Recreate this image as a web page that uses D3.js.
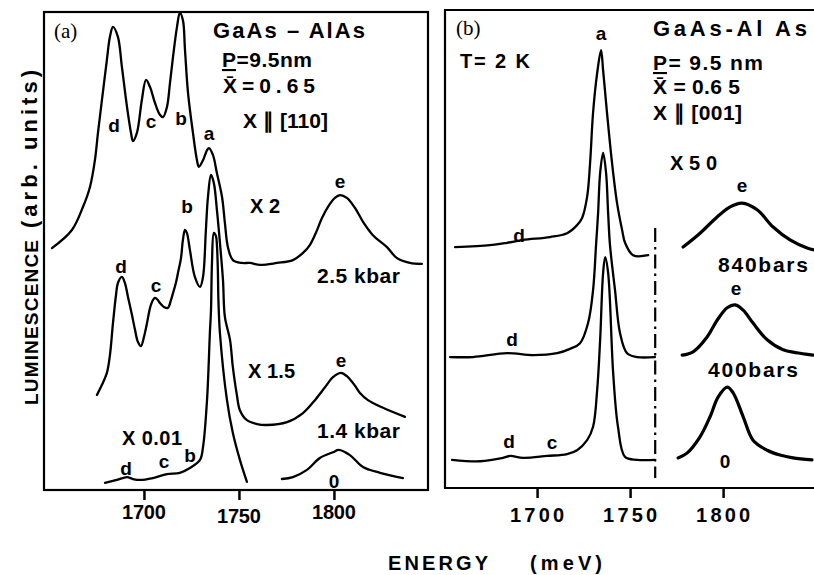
<!DOCTYPE html>
<html>
<head>
<meta charset="utf-8">
<script src="https://cdnjs.cloudflare.com/ajax/libs/d3/7.8.5/d3.min.js"></script>
<style>
body{margin:0;background:#fff}
svg{display:block}
text{font-family:"Liberation Sans",Arial,sans-serif;font-weight:bold;fill:#000}
text.serif{font-family:"Liberation Serif","Times New Roman",serif;font-weight:normal}
</style>
</head>
<body>
<svg id="chart" width="814" height="575"></svg>
<script>
var tickEnergies = [1700, 1750, 1800]

// panel (a)  X || [110]
var a25Energy = [1651.6,1662.1,1667.9,1671.6,1674.2,1675.8,1677.9,1680.5,1682.1,1683.7,1686.3,1688.4,1691.1,1693.2,1694.2,1696.3,1698.9,1701.1,1703.2,1705.8,1708.4,1710.0,1712.1,1713.7,1715.3,1717.4,1718.9,1720.5,1721.6,1723.2,1725.8,1727.9,1728.9,1731.1,1733.2,1734.2,1736.3,1738.4,1741.1,1742.6,1744.2,1746.8,1751.6,1755.8,1761.1,1770.0,1778.4,1783.7,1787.4,1790.5,1793.7,1796.8,1800.5,1803.2,1806.8,1811.1,1815.3,1820.5,1827.9,1833.2,1840.0,1846.3]
var a25Lum = [50.6,54.4,59.2,63.4,69.0,74.7,81.6,90.0,94.8,96.9,94.8,88.5,80.1,74.7,73.0,74.7,81.6,85.8,84.3,81.0,78.5,78.0,80.1,85.1,90.6,96.9,99.8,98.3,92.1,83.1,74.7,69.0,67.6,69.0,71.1,71.5,70.1,66.3,61.3,55.9,50.8,48.1,47.5,47.5,47.1,47.5,48.1,49.6,51.3,53.8,56.9,59.2,61.1,61.7,61.1,59.0,56.1,53.3,50.8,48.5,47.5,47.3]

var a14Energy = [1675.3,1677.9,1680.5,1682.1,1683.7,1685.3,1686.3,1688.4,1690.0,1691.6,1693.7,1695.3,1696.8,1698.4,1700.0,1701.6,1703.2,1704.2,1705.8,1707.4,1708.4,1710.5,1712.6,1714.2,1715.3,1716.8,1717.9,1719.5,1720.5,1721.6,1722.6,1724.2,1726.8,1729.5,1731.1,1732.6,1733.7,1735.3,1736.8,1738.4,1740.0,1741.6,1742.6,1745.3,1746.8,1748.9,1750.5,1754.2,1759.5,1764.7,1775.3,1783.7,1790.0,1795.3,1799.5,1803.7,1806.8,1811.1,1813.7,1817.9,1825.8,1837.4]
var a14Lum = [19.9,22.0,24.5,28.2,34.9,40.8,43.3,44.6,43.3,40.4,36.6,33.5,31.0,30.1,32.0,34.9,38.1,39.3,40.2,39.7,39.1,38.3,38.1,39.7,41.2,43.3,45.4,48.5,52.3,54.4,53.8,50.2,44.6,42.5,44.6,54.4,61.3,65.9,64.2,58.6,51.7,43.9,36.2,31.4,25.7,19.9,16.7,14.6,13.8,13.6,14.2,16.1,18.8,21.5,23.6,24.5,23.8,21.8,20.3,18.8,17.2,15.3]

var a0Energy = [1679.5,1685.8,1691.1,1694.2,1697.9,1704.7,1712.1,1718.9,1724.2,1729.5,1731.1,1733.2,1734.7,1735.3,1735.8,1736.8,1737.9,1738.4,1738.9,1739.2,1740.0,1743.7,1746.8,1750.5,1754.2,null,1772.6,1778.4,1785.8,1792.6,1799.5,1802.6,1808.4,1815.3,1824.2,1836.3]
var a0Lum = [1.5,2.1,2.7,2.3,2.1,2.5,3.3,3.6,4.6,6.3,9.0,18.8,32.8,37.7,47.5,53.8,53.1,51.3,46.0,39.7,32.8,18.8,11.9,6.3,1.7,null,2.3,2.7,4.2,6.7,7.9,8.4,7.3,4.8,3.6,2.5]

// panel (b)  X || [001]
var b840Energy = [1655.9,1674.7,1683.9,1692.5,1707.0,1716.1,1721.5,1724.2,1726.9,1728.5,1730.1,1732.3,1734.4,1735.5,1737.6,1740.3,1743.0,1745.7,1747.3,1751.6,1759.7]
var b840Lum = [50.4,50.8,51.3,51.9,52.5,53.3,55.0,56.5,60.9,68.0,78.5,86.8,91.6,87.4,78.5,68.0,59.6,54.0,51.3,48.7,48.7]
var b840xEnergy = [1778.5,1787.6,1796.8,1803.8,1810.2,1818.3,1826.9,1836.0,1845.2,1848.9]
var b840xLum = [50.4,53.3,56.7,58.8,59.6,58.2,54.6,51.9,50.2,49.8]

var b400Energy = [1653.2,1665.6,1683.9,1697.8,1710.8,1717.7,1723.1,1727.4,1730.1,1731.7,1732.8,1733.9,1735.5,1737.1,1738.2,1739.2,1741.9,1744.6,1748.4,1753.8,1763.4]
var b400Lum = [27.4,27.4,28.2,27.8,28.2,29.1,30.3,34.5,41.4,50.8,57.5,65.9,70.1,65.9,57.5,50.8,41.4,32.4,28.2,27.4,27.4]
var b400xEnergy = [1778.0,1783.9,1791.4,1796.8,1802.2,1806.5,1810.8,1816.1,1823.7,1832.3,1841.4,1848.4]
var b400xLum = [27.8,28.5,31.6,35.1,37.7,38.3,37.2,34.5,31.0,28.9,28.2,27.8]

var b0Energy = [1654.3,1669.4,1681.7,1685.5,1692.5,1705.4,1716.1,1721.5,1726.9,1730.1,1732.3,1733.9,1735.5,1736.6,1738.2,1740.9,1743.5,1747.3,1753.8,1763.4]
var b0Lum = [5.9,5.6,6.3,6.7,6.3,6.7,7.1,7.9,10.0,12.8,20.5,31.0,45.0,48.3,45.0,24.1,12.8,6.5,5.9,5.9]
var b0xEnergy = [1775.8,1780.6,1787.6,1793.0,1797.3,1802.2,1805.4,1810.8,1816.1,1823.7,1830.6,1837.6,1847.8]
var b0xLum = [6.3,7.3,10.7,14.9,19.0,21.1,19.9,14.9,10.0,7.9,6.9,6.3,5.9]

var splitEnergy = 1763.5
var splitLum = [2.1, 54.4]

var svg = d3.select("#chart")

var panelA = {
    x: d3.scaleLinear().domain([1647.4,1849.5]).range([44,428]),
    y: d3.scaleLinear().domain([0,100]).range([490,12])
}
var panelB = {
    x: d3.scaleLinear().domain([1650.5,1850]).range([445,816.1]),
    y: d3.scaleLinear().domain([0,100]).range([488,10])
}

var drawSpectrum = function(panel, energy, lum, width)
{
    var line = d3.line()
        .defined(function(d){return d[1] != null})
        .x(function(d){return panel.x(d[0])})
        .y(function(d){return panel.y(d[1])})
        .curve(d3.curveCatmullRom.alpha(0.5))
    svg.append("path")
        .datum(d3.zip(energy, lum))
        .attr("d", line)
        .attr("fill","none")
        .attr("stroke","#000")
        .attr("stroke-width", width)
        .attr("stroke-linejoin","round")
        .attr("stroke-linecap","round")
}

var drawAxis = function(panel, ySpot, labelY, width)
{
    var axis = d3.axisBottom(panel.x)
        .tickValues(tickEnergies)
        .tickSize(10)
        .tickSizeOuter(0)
        .tickFormat("")
    var g = svg.append("g")
        .attr("transform","translate(0,"+ySpot+")")
        .call(axis)
    g.select(".domain").remove()
    g.selectAll(".tick line").attr("stroke","#000").attr("stroke-width",2.5)
    // labels drawn by hand so the bold face sticks
    svg.append("g")
        .selectAll("text")
        .data(tickEnergies)
        .enter()
        .append("text")
        .text(function(d){return d})
        .attr("x", function(d){return panel.x(d) - width/2})
        .attr("y", function(d){return ySpot + labelY(d)})
        .attr("textLength", width)
        .attr("lengthAdjust","spacing")
        .style("font-size","20px")
}

// frames
svg.append("rect")
    .attr("x",44).attr("y",12).attr("width",384).attr("height",478)
    .attr("fill","none").attr("stroke","#000").attr("stroke-width",2.2)
svg.append("path")
    .attr("d","M820,10H445V488H820")
    .attr("fill","none").attr("stroke","#000").attr("stroke-width",2.2)

drawAxis(panelA, 490, function(d){return d==1750 ? 33 : 29}, 44)
drawAxis(panelB, 488, function(d){return 34}, 54)

// spectra
drawSpectrum(panelA, a25Energy, a25Lum, 2.3)
drawSpectrum(panelA, a14Energy, a14Lum, 2.3)
drawSpectrum(panelA, a0Energy, a0Lum, 2.3)
drawSpectrum(panelB, b840Energy, b840Lum, 2.3)
drawSpectrum(panelB, b400Energy, b400Lum, 2.3)
drawSpectrum(panelB, b0Energy, b0Lum, 2.3)
drawSpectrum(panelB, b840xEnergy, b840xLum, 3.2)
drawSpectrum(panelB, b400xEnergy, b400xLum, 3.2)
drawSpectrum(panelB, b0xEnergy, b0xLum, 3.2)

svg.append("line")
    .attr("x1", panelB.x(splitEnergy)).attr("x2", panelB.x(splitEnergy))
    .attr("y1", panelB.y(splitLum[1])).attr("y2", panelB.y(splitLum[0]))
    .attr("stroke","#000").attr("stroke-width",2.2)
    .attr("stroke-dasharray","14,5,2.5,5")

// texts
var notes = [
    ["(a)",54,38,21,"start",null,"serif"],
    ["GaAs \u2013 AlAs",213,38,22,"start",152],
    ["X\u0304=0.65",223,93,21,"start",92],
    ["X \u2225 [110]",243,128,21,"start",85],
    ["d",114,132,19,"middle"],
    ["c",151,128,19,"middle"],
    ["b",181,125,19,"middle"],
    ["a",209,140,19,"middle"],
    ["e",340,188,19,"middle"],
    ["X 2",250,213,20,"start",30],
    ["b",187,213,19,"middle"],
    ["2.5 kbar",317,283,21,"start",83],
    ["d",121,273,19,"middle"],
    ["c",156,292,19,"middle"],
    ["X 1.5",248,378,20,"start",47],
    ["e",341,367,19,"middle"],
    ["1.4 kbar",317,438,21,"start",83],
    ["X 0.01",122,445,20,"start",60],
    ["b",190,462,19,"middle"],
    ["c",164,468,19,"middle"],
    ["d",126,475,19,"middle"],
    ["0",334,488,19,"middle"],
    ["(b)",456,35,21,"start",null,"serif"],
    ["a",601,40,19,"middle"],
    ["GaAs-Al As",653,36,22,"start",154],
    ["T= 2 K",460,68,20,"start",70],
    ["X\u0304 = 0.6 5",653,94,21,"start",87],
    ["X \u2225 [001]",653,120,21,"start",89],
    ["X50",670,170,20,"start",47],
    ["e",742,192,19,"middle"],
    ["d",519,242,19,"middle"],
    ["840bars",718,272,21,"start",90],
    ["e",736,295,19,"middle"],
    ["d",512,346,19,"middle"],
    ["400bars",708,377,21,"start",90],
    ["d",509,448,19,"middle"],
    ["c",552,449,19,"middle"],
    ["0",725,468,19,"middle"]
]
notes.forEach(function(n)
{
    var t = svg.append("text")
        .text(n[0])
        .attr("x",n[1]).attr("y",n[2])
        .attr("text-anchor",n[4])
        .style("font-size",n[3]+"px")
    if (n[5]) {t.attr("textLength",n[5]).attr("lengthAdjust","spacing")}
    if (n[6]) {t.classed(n[6],true)}
})

// P with the bar under it
var pLines = [[222,67,90,"=9.5nm"],[653,70,110,"= 9.5 nm"]]
pLines.forEach(function(p)
{
    var t = svg.append("text")
        .attr("x",p[0]).attr("y",p[1])
        .attr("textLength",p[2]).attr("lengthAdjust","spacing")
        .style("font-size","21px")
    t.append("tspan").text("P").style("text-decoration","underline")
    t.append("tspan").text(p[3])
})

// axis titles
svg.append("text")
    .text("ENERGY")
    .attr("x",388).attr("y",570)
    .attr("textLength",100).attr("lengthAdjust","spacing")
    .style("font-size","20px")
svg.append("text")
    .text("(meV)")
    .attr("x",530).attr("y",570)
    .attr("textLength",72).attr("lengthAdjust","spacing")
    .style("font-size","20px")
svg.append("g")
    .attr("transform","translate(38,405) rotate(-90)")
    .append("text")
    .text("LUMINESCENCE")
    .attr("textLength",165).attr("lengthAdjust","spacing")
    .style("font-size","19px")
svg.append("g")
    .attr("transform","translate(37,228) rotate(-90)")
    .append("text")
    .text("(arb. units)")
    .attr("textLength",158).attr("lengthAdjust","spacing")
    .style("font-size","22px")
</script>
</body>
</html>
